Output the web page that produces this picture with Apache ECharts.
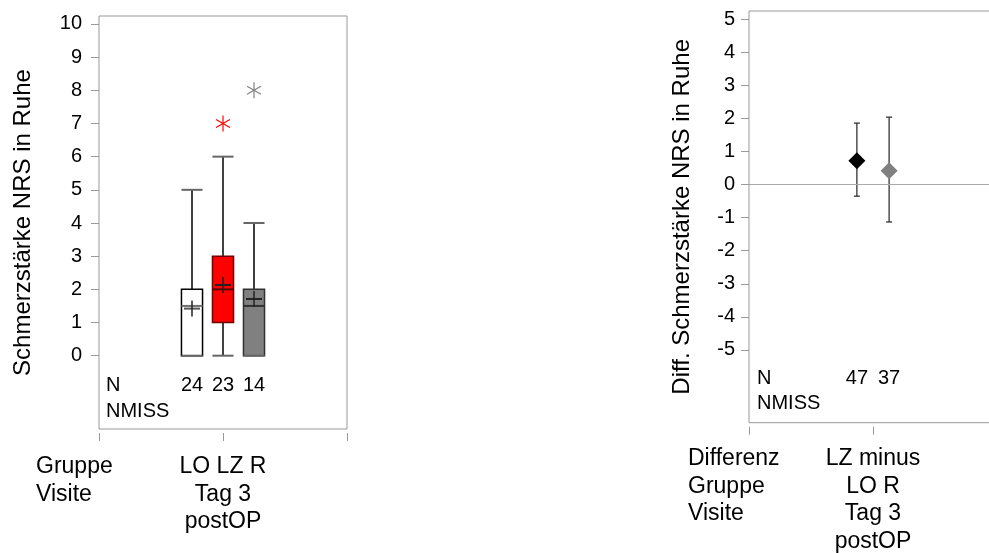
<!DOCTYPE html>
<html>
<head>
<meta charset="utf-8">
<script src="https://cdn.jsdelivr.net/npm/echarts@6/dist/echarts.min.js"></script>
<style>html,body{margin:0;padding:0;background:#fff}#c{width:989px;height:553px}</style>
</head>
<body>
<div id="c"></div>
<script>
// ---- Left panel: box plots ----
const groups = ['LO', 'LZ', 'R'];
const boxPos = [0.75, 1, 1.25];
const boxMin = [0, 0, 0];
const boxQ1 = [0, 1, 0];
const boxMedian = [1.5, 2, 1.5];
const boxQ3 = [2, 3, 2];
const boxMax = [5, 6, 4];
const boxMean = [1.42, 2.13, 1.71];
const boxN = [24, 23, 14];
const outlierGroup = [1, 2];
const outlierValue = [7, 8];
const yTicksLeft = [0, 1, 2, 3, 4, 5, 6, 7, 8, 9, 10];
const xLabelLeft = ['LO LZ R', 'Tag 3', 'postOP'];
const rowLabelLeft = ['Gruppe', 'Visite'];

// ---- Right panel: differences ----
const diffPos = [0.87, 1.13];
const diffMean = [0.72, 0.42];
const diffLow = [-0.35, -1.13];
const diffHigh = [1.86, 2.04];
const diffN = [47, 37];
const yTicksRight = [-5, -4, -3, -2, -1, 0, 1, 2, 3, 4, 5];
const xLabelRight = ['LZ minus', 'LO R', 'Tag 3', 'postOP'];
const rowLabelRight = ['Differenz', 'Gruppe', 'Visite'];

const FONT = 'Liberation Sans, Arial, sans-serif';
const boxFill = ['#ffffff', '#ff0000', '#808080'];
const boxStroke = ['#000000', '#700000', '#303030'];
const medStroke = ['#707070', '#600000', '#303030'];
const diffColor = ['#000000', '#808080'];

const boxData = boxPos.map((p, i) => [p, boxMin[i], boxQ1[i], boxMedian[i], boxQ3[i], boxMax[i], boxMean[i]]);

function renderBox(params, api) {
  const i = params.dataIndex;
  const x = api.value(0);
  const c = api.coord([x, 0])[0];
  const hw = api.size([0.17, 0])[0] / 2;
  const y = k => api.coord([x, api.value(k)])[1];
  const yMin = y(1), yQ1 = y(2), yMed = y(3), yQ3 = y(4), yMax = y(5), yMean = y(6);
  const kids = [];
  const line = (x1, y1, x2, y2, color, w) => kids.push({type: 'line', shape: {x1, y1, x2, y2}, style: {stroke: color, lineWidth: w}});
  line(c, yQ3, c, yMax, '#000', 1.5);
  line(c, yMin, c, yQ1, '#000', 1.5);
  kids.push({type: 'rect', shape: {x: c - hw, y: yQ3, width: 2 * hw, height: yQ1 - yQ3},
    style: {fill: boxFill[i], stroke: boxStroke[i], lineWidth: 1.5}});
  line(c - hw, yMax, c + hw, yMax, '#666', 2);
  line(c - hw, yMin, c + hw, yMin, '#666', 2);
  line(c - hw, yMed, c + hw, yMed, medStroke[i], 2);
  line(c - 8, yMean, c + 8, yMean, i === 0 ? '#555' : '#222', 2);
  line(c, yMean - 8, c, yMean + 8, '#222', 1.5);
  return {type: 'group', children: kids};
}

const starData = outlierGroup.map((g, i) => [boxPos[g], outlierValue[i], g]);
function renderStar(params, api) {
  const p = api.coord([api.value(0), api.value(1)]);
  const g = api.value(2);
  const color = g === 1 ? '#ff0000' : '#808080';
  const r = 8;
  const kids = [];
  [90, 30, 150].forEach(a => {
    const rad = a * Math.PI / 180;
    const dx = Math.cos(rad) * r, dy = Math.sin(rad) * r;
    kids.push({type: 'line', shape: {x1: p[0] - dx, y1: p[1] - dy, x2: p[0] + dx, y2: p[1] + dy}, style: {stroke: color, lineWidth: 1.2}});
  });
  return {type: 'group', children: kids};
}

function makeTextRenderer(rowPixelOffsetFromBottom) {
  return function (params, api) {
    const x = api.value(0);
    const c = api.coord([x, 0])[0];
    return {type: 'text', x: c, y: params.coordSys.y + params.coordSys.height - rowPixelOffsetFromBottom,
      style: {text: String(api.value(1)), font: '20px ' + FONT, fill: '#000', align: 'center', verticalAlign: 'middle'}};
  };
}

const errData = diffPos.map((p, i) => [p, diffLow[i], diffHigh[i]]);
function renderErr(params, api) {
  const x = api.value(0);
  const lo = api.coord([x, api.value(1)]);
  const hi = api.coord([x, api.value(2)]);
  const st = {stroke: '#333', lineWidth: 1.3};
  return {type: 'group', children: [
    {type: 'line', shape: {x1: lo[0], y1: lo[1], x2: hi[0], y2: hi[1]}, style: st},
    {type: 'line', shape: {x1: lo[0] - 3, y1: lo[1], x2: lo[0] + 3, y2: lo[1]}, style: st},
    {type: 'line', shape: {x1: hi[0] - 3, y1: hi[1], x2: hi[0] + 3, y2: hi[1]}, style: st}
  ]};
}

const chart = echarts.init(document.getElementById('c'));
const axisGray = '#999';
chart.setOption({
  animation: false,
  backgroundColor: '#fff',
  textStyle: {fontFamily: FONT},
  grid: [
    {left: 99, top: 16, width: 248, height: 413, show: true, borderColor: axisGray, borderWidth: 1, backgroundColor: 'transparent', outerBoundsMode: 'none', containLabel: false},
    {left: 749, top: 11, width: 248, height: 411.7, show: true, borderColor: axisGray, borderWidth: 1, backgroundColor: 'transparent', outerBoundsMode: 'none', containLabel: false}
  ],
  xAxis: [
    {gridIndex: 0, type: 'value', min: 0, max: 2, interval: 1, offset: 4, position: 'bottom',
      axisLine: {show: false, onZero: false}, splitLine: {show: false},
      axisTick: {show: true, customValues: [0, 1, 2], length: 8, lineStyle: {color: axisGray}},
      axisLabel: {customValues: [1], formatter: () => xLabelLeft.join('\n'), margin: 20, fontSize: 23, lineHeight: 27.5, color: '#000', align: 'center', fontFamily: FONT}},
    {gridIndex: 1, type: 'value', min: 0, max: 2, interval: 1, offset: 4, position: 'bottom',
      axisLine: {show: false, onZero: false}, splitLine: {show: false},
      axisTick: {show: true, customValues: [0, 1, 2], length: 8, lineStyle: {color: axisGray}},
      axisLabel: {customValues: [1], formatter: () => xLabelRight.join('\n'), margin: 18.5, fontSize: 23, lineHeight: 27.5, color: '#000', align: 'center', fontFamily: FONT}}
  ],
  yAxis: [
    {gridIndex: 0, type: 'value', min: -2.21, max: 10.24,
      axisLine: {show: false, onZero: false}, splitLine: {show: false},
      axisTick: {show: true, customValues: yTicksLeft, length: 8, lineStyle: {color: axisGray}},
      axisLabel: {customValues: yTicksLeft, fontSize: 20, color: '#000', margin: 17, fontFamily: FONT},
      name: 'Schmerzstärke NRS in Ruhe', nameLocation: 'middle', nameGap: 64,
      nameTextStyle: {fontSize: 24, color: '#000', fontFamily: FONT}},
    {gridIndex: 1, type: 'value', min: -7.2, max: 5.25,
      axisLine: {show: false, onZero: false}, splitLine: {show: false},
      axisTick: {show: true, customValues: yTicksRight, length: 8, lineStyle: {color: axisGray}},
      axisLabel: {customValues: yTicksRight, fontSize: 20, color: '#000', margin: 14, fontFamily: FONT},
      name: 'Diff. Schmerzstärke NRS in Ruhe', nameLocation: 'middle', nameGap: 55,
      nameTextStyle: {fontSize: 24, color: '#000', fontFamily: FONT}}
  ],
  series: [
    {type: 'custom', name: 'Box', xAxisIndex: 0, yAxisIndex: 0, data: boxData, renderItem: renderBox, silent: true, clip: false},
    {type: 'custom', name: 'Ausreißer', xAxisIndex: 0, yAxisIndex: 0, data: starData, renderItem: renderStar, silent: true},
    {type: 'custom', name: 'N links', xAxisIndex: 0, yAxisIndex: 0, data: boxPos.map((p, i) => [p, boxN[i]]), renderItem: makeTextRenderer(44), silent: true},
    {type: 'custom', name: 'Fehlerbalken', xAxisIndex: 1, yAxisIndex: 1, data: errData, renderItem: renderErr, silent: true,
      markLine: {silent: true, symbol: 'none', label: {show: false}, lineStyle: {color: '#aaa', width: 1, type: 'solid', opacity: 1}, data: [{yAxis: 0}]}},
    {type: 'scatter', name: 'Differenz', xAxisIndex: 1, yAxisIndex: 1, symbol: 'diamond', symbolSize: [17, 17], silent: true,
      itemStyle: {opacity: 1},
      data: diffPos.map((p, i) => ({value: [p, diffMean[i]], itemStyle: {color: diffColor[i], opacity: 1}}))},
    {type: 'custom', name: 'N rechts', xAxisIndex: 1, yAxisIndex: 1, data: diffPos.map((p, i) => [p, diffN[i]]), renderItem: makeTextRenderer(44.7), silent: true}
  ],
  graphic: [
    {type: 'text', left: 106, top: 372, style: {text: 'N\nNMISS', font: '20px ' + FONT, lineHeight: 26, fill: '#000'}},
    {type: 'text', left: 757, top: 365.5, style: {text: 'N\nNMISS', font: '20px ' + FONT, lineHeight: 25, fill: '#000'}},
    {type: 'text', left: 36, top: 453, style: {text: rowLabelLeft.join('\n'), font: '23px ' + FONT, lineHeight: 27.5, fill: '#000'}},
    {type: 'text', left: 688, top: 445.2, style: {text: rowLabelRight.join('\n'), font: '23px ' + FONT, lineHeight: 27.5, fill: '#000'}}
  ]
});
</script>
</body>
</html>
